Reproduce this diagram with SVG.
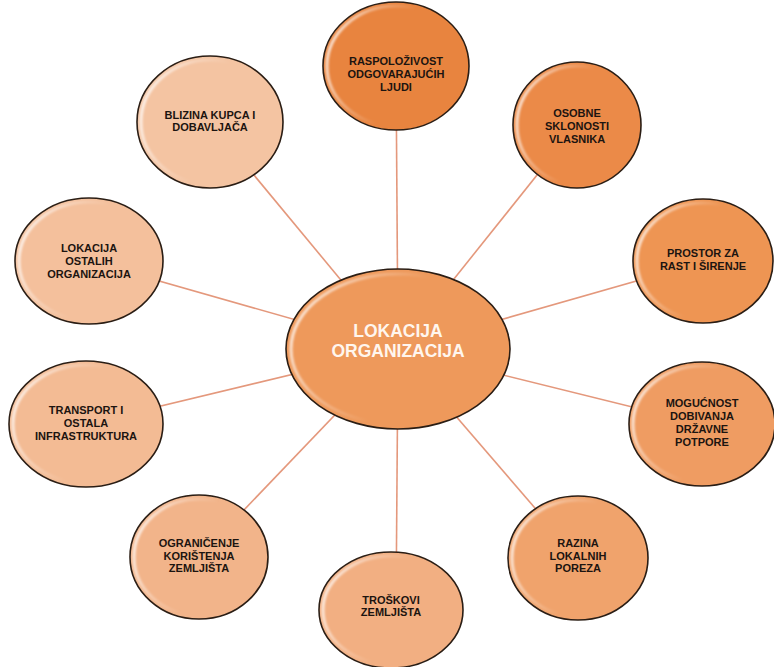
<svg xmlns="http://www.w3.org/2000/svg" width="774" height="667" viewBox="0 0 774 667">
<defs>
<linearGradient id="hl" x1="0" y1="0" x2="1" y2="0.3">
<stop offset="0" stop-color="#fff" stop-opacity="0.95"/>
<stop offset="0.35" stop-color="#fff" stop-opacity="0.3"/>
<stop offset="0.6" stop-color="#fff" stop-opacity="0"/>
</linearGradient>
<filter id="soft" x="-10%" y="-10%" width="120%" height="120%"><feGaussianBlur stdDeviation="1"/></filter>
</defs>
<style>
.bg{fill:#ffffff}
.conn line{stroke:#E4987C;stroke-width:1.6}
.ring{stroke:#2a1d14;stroke-width:1.6}
.hl{fill:none;stroke:url(#hl);stroke-width:3;filter:url(#soft)}
.t{font-family:"Liberation Sans",Arial,sans-serif;font-weight:bold;font-size:11px;fill:#1c1410;text-anchor:middle}
.tc{font-family:"Liberation Sans",Arial,sans-serif;font-weight:bold;font-size:17.5px;fill:#fff6ee;text-anchor:middle}
</style>
<rect class="bg" x="0" y="0" width="774" height="667"/>
<g id="connectors" class="conn">
<line x1="398" y1="349" x2="396" y2="66"/>
<line x1="398" y1="349" x2="210" y2="122"/>
<line x1="398" y1="349" x2="577" y2="125"/>
<line x1="398" y1="349" x2="703" y2="262"/>
<line x1="398" y1="349" x2="701" y2="424"/>
<line x1="398" y1="349" x2="578" y2="558"/>
<line x1="398" y1="349" x2="396" y2="610"/>
<line x1="398" y1="349" x2="199" y2="557"/>
<line x1="398" y1="349" x2="86" y2="424"/>
<line x1="398" y1="349" x2="89" y2="261"/>
</g>
<g id="n-raspolozivost">
<ellipse class="ring" cx="396" cy="66" rx="73" ry="64" fill="#E8843F"/>
<ellipse class="hl" cx="396" cy="66" rx="69" ry="60"/>
<text class="t" x="396" y="65">RASPOLOŽIVOST</text>
<text class="t" x="396" y="78">ODGOVARAJUĆIH</text>
<text class="t" x="396" y="91">LJUDI</text>
</g>
<g id="n-osobne">
<ellipse class="ring" cx="577" cy="125" rx="64" ry="63" fill="#EB8A48"/>
<ellipse class="hl" cx="577" cy="125" rx="60" ry="59"/>
<text class="t" x="577" y="117">OSOBNE</text>
<text class="t" x="577" y="130">SKLONOSTI</text>
<text class="t" x="577" y="143">VLASNIKA</text>
</g>
<g id="n-prostor">
<ellipse class="ring" cx="703" cy="261" rx="70" ry="62" fill="#EE9553"/>
<ellipse class="hl" cx="703" cy="261" rx="66" ry="58"/>
<text class="t" x="703" y="257">PROSTOR ZA</text>
<text class="t" x="703" y="270">RAST I ŠIRENJE</text>
</g>
<g id="n-mogucnost">
<ellipse class="ring" cx="702" cy="424" rx="73" ry="62" fill="#EF9C62"/>
<ellipse class="hl" cx="702" cy="424" rx="69" ry="58"/>
<text class="t" x="702" y="407">MOGUĆNOST</text>
<text class="t" x="702" y="420">DOBIVANJA</text>
<text class="t" x="702" y="433">DRŽAVNE</text>
<text class="t" x="702" y="446">POTPORE</text>
</g>
<g id="n-razina">
<ellipse class="ring" cx="578" cy="558" rx="70" ry="62" fill="#F0A36C"/>
<ellipse class="hl" cx="578" cy="558" rx="66" ry="58"/>
<text class="t" x="578" y="547">RAZINA</text>
<text class="t" x="578" y="560">LOKALNIH</text>
<text class="t" x="578" y="572">POREZA</text>
</g>
<g id="n-troskovi">
<ellipse class="ring" cx="391" cy="610" rx="72" ry="58" fill="#F2AF82"/>
<ellipse class="hl" cx="391" cy="610" rx="68" ry="54"/>
<text class="t" x="391" y="604">TROŠKOVI</text>
<text class="t" x="391" y="616">ZEMLJIŠTA</text>
</g>
<g id="n-ogranicenje">
<ellipse class="ring" cx="199" cy="557" rx="69" ry="62" fill="#F2B48A"/>
<ellipse class="hl" cx="199" cy="557" rx="65" ry="58"/>
<text class="t" x="199" y="547">OGRANIČENJE</text>
<text class="t" x="199" y="560">KORIŠTENJA</text>
<text class="t" x="199" y="572">ZEMLJIŠTA</text>
</g>
<g id="n-transport">
<ellipse class="ring" cx="86" cy="424" rx="77" ry="63" fill="#F3BB94"/>
<ellipse class="hl" cx="86" cy="424" rx="73" ry="59"/>
<text class="t" x="86" y="414">TRANSPORT I</text>
<text class="t" x="86" y="427">OSTALA</text>
<text class="t" x="86" y="440">INFRASTRUKTURA</text>
</g>
<g id="n-lokacija-ostalih">
<ellipse class="ring" cx="89" cy="261" rx="74" ry="63" fill="#F4C09C"/>
<ellipse class="hl" cx="89" cy="261" rx="70" ry="59"/>
<text class="t" x="89" y="252">LOKACIJA</text>
<text class="t" x="89" y="265">OSTALIH</text>
<text class="t" x="89" y="278">ORGANIZACIJA</text>
</g>
<g id="n-blizina">
<ellipse class="ring" cx="210" cy="122" rx="73" ry="66" fill="#F4C4A2"/>
<ellipse class="hl" cx="210" cy="122" rx="69" ry="62"/>
<text class="t" x="210" y="119">BLIZINA KUPCA I</text>
<text class="t" x="210" y="131">DOBAVLJAČA</text>
</g>
<g id="n-center">
<ellipse class="ring" cx="398" cy="349" rx="112" ry="80" fill="#EE995B"/>
<ellipse class="hl" cx="398" cy="349" rx="107" ry="75"/>
<text class="tc" x="398" y="337">LOKACIJA</text>
<text class="tc" x="398" y="357">ORGANIZACIJA</text>
</g>
</svg>
